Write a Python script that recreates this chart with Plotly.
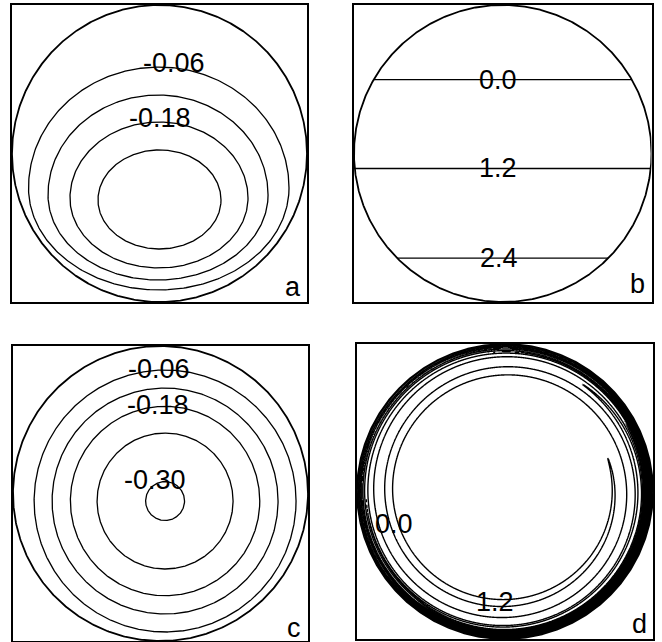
import numpy as np
import plotly.graph_objects as go

# ---------------------------------------------------------------
# Panel a: stream-function contours of an off-centre vortex.
# Each closed contour is an egg shape given by its extremes
# (unit-disc coordinates) and the height of its widest point.
# ---------------------------------------------------------------
a_levels = [-0.06, -0.12, -0.18, -0.24]
a_left = [-0.888, -0.756, -0.607, -0.417]
a_right = [0.878, 0.736, 0.600, 0.417]
a_top = [0.582, 0.394, 0.212, 0.024]
a_bottom = [-0.919, -0.852, -0.771, -0.643]
a_waist = [-0.232, -0.279, -0.300, -0.313]
a_labelled = [-0.06, -0.18]
a_label_dx = [0.095, 0.003]

# ---------------------------------------------------------------
# Panel b: initial tracer field, straight level lines
# ---------------------------------------------------------------
b_levels = [0.0, 1.2, 2.4]
b_line_y = [0.497, -0.101, -0.705]
b_label_dx = [-0.035, -0.029, -0.025]

# ---------------------------------------------------------------
# Panel c: centred vortex, near-circular contours
# ---------------------------------------------------------------
c_levels = [-0.06, -0.12, -0.18, -0.24, -0.30]
c_radius = [0.888, 0.766, 0.642, 0.461, 0.132]
c_centre_x = [0.031, 0.031, 0.031, 0.031, 0.031]
c_centre_y = [-0.051, -0.051, -0.051, -0.051, -0.051]
c_labelled = [-0.06, -0.18, -0.30]
c_label_dx = [-0.038, -0.051, -0.071]

# ---------------------------------------------------------------
# Panel d: tracer of panel b wound up by the vortex.
# Field = mean - 2*amp*sin(theta - twist(r)); the core is
# homogenised (amp -> 0) and the shear rises steeply near the wall.
# The wall part of the amplitude is measured from a slightly
# displaced centre, which breaks the filaments into tongues.
# ---------------------------------------------------------------
d_levels = [0.0, 1.2, 2.4]
d_mean = 1.0
d_core_edge = 0.715     # stirring amplitude vanishes inside this radius
d_ramp_height = 0.45    # amplitude plateau across the annulus
d_ramp_width = 0.04
d_wall_gain = 0.55      # extra amplitude recovered towards the wall
d_wall_decay = 0.05
d_wall_centre = (-0.06, 0.06)
d_twist_wall = -1.778   # rad
d_shear_core = 48.0     # shear across the annulus (rad per unit r)
d_shear_wall = 250.0    # additional shear inside the wall layer
d_wall_layer_r = 0.94
d_wall_layer_w = 0.012
d_label_text = ["0.0", "1.2"]
d_label_x = [-0.753, -0.068]
d_label_y = [-0.220, -0.749]

panel_letters = ["a", "b", "c", "d"]
letter_x = [0.905, 0.906, 0.908, 0.909]
letter_y = [-0.900, -0.880, -0.915, -0.898]

# subplot frames in pixels (left, right, top, bottom) on a 662x642 canvas
W, H = 662, 642
frames_px = [(12, 307, 5, 302), (354, 651.5, 5, 302),
             (13, 308, 346, 641), (357, 653, 344, 639)]

FONT = dict(family="Liberation Sans, Arial, Helvetica, sans-serif", size=27, color="black")
CONTOUR_W = 1.3
CIRCLE_W = 1.8

fig = go.Figure()


def axis_names(i):
    return ("x" if i == 0 else f"x{i+1}", "y" if i == 0 else f"y{i+1}")


def egg(left, right, top, bottom, waist, n=361):
    t = np.linspace(0, 2 * np.pi, n)
    s = np.sin(t)
    x = 0.5 * (left + right) + 0.5 * (right - left) * np.cos(t)
    y = np.where(s >= 0, waist + (top - waist) * s, waist + (waist - bottom) * s)
    return x, y


def line_trace(x, y, i, width=CONTOUR_W, name=None):
    xa, ya = axis_names(i)
    return go.Scatter(x=x, y=y, mode="lines", xaxis=xa, yaxis=ya, name=name,
                      line=dict(color="black", width=width), hoverinfo="skip",
                      showlegend=False)


def label(text, x, y, i):
    xa, ya = axis_names(i)
    fig.add_annotation(text=text, x=x, y=y, xref=xa, yref=ya, showarrow=False,
                       xanchor="center", yanchor="middle", font=FONT)


# boundary circle of every panel
tt = np.linspace(0, 2 * np.pi, 721)
for i in range(4):
    fig.add_trace(line_trace(np.cos(tt), np.sin(tt), i, width=CIRCLE_W))

# panel a
for lev, l, r, t, b, w in zip(a_levels, a_left, a_right, a_top, a_bottom, a_waist):
    x, y = egg(l, r, t, b, w)
    fig.add_trace(line_trace(x, y, 0, name=f"{lev:.2f}"))
for lev, dx in zip(a_labelled, a_label_dx):
    k = a_levels.index(lev)
    label(f"{lev:.2f}", dx, a_top[k] + 0.03, 0)

# panel b
for lev, yv, dx in zip(b_levels, b_line_y, b_label_dx):
    half = np.sqrt(1 - yv ** 2)
    fig.add_trace(line_trace([-half, half], [yv, yv], 1, name=f"{lev:.1f}"))
    label(f"{lev:.1f}", dx, yv, 1)

# panel c
for lev, rad, x0, y0 in zip(c_levels, c_radius, c_centre_x, c_centre_y):
    fig.add_trace(line_trace(x0 + rad * np.cos(tt), y0 + rad * np.sin(tt), 2,
                             name=f"{lev:.2f}"))
for lev, dx in zip(c_labelled, c_label_dx):
    k = c_levels.index(lev)
    label(f"{lev:.2f}", c_centre_x[k] + dx, c_centre_y[k] + c_radius[k] + 0.01, 2)

# panel d: wound-up tracer field on a fine grid
n = 541
g = np.linspace(-1, 1, n)
X, Y = np.meshgrid(g, g)
R = np.hypot(X, Y)
TH = np.arctan2(Y, X)
Rw = np.hypot(X - d_wall_centre[0], Y - d_wall_centre[1])
amp = (d_ramp_height * (1 - np.exp(-np.clip(R - d_core_edge, 0, None) / d_ramp_width))
       + d_wall_gain * np.exp(-np.clip(1 - Rw, 0, None) / d_wall_decay))
amp = np.where(R > d_core_edge, amp, 0.0)
# integral of the wall-layer shear (logistic profile) from r out to the wall
wall_int = d_shear_wall * d_wall_layer_w * (
    np.log1p(np.exp((1 - d_wall_layer_r) / d_wall_layer_w))
    - np.log1p(np.exp((np.minimum(R, 1.0) - d_wall_layer_r) / d_wall_layer_w)))
twist = d_twist_wall + d_shear_core * (1 - R) + wall_int
Z = d_mean - 2 * amp * np.sin(TH - twist)
Z[R > 1.0] = np.nan
step = d_levels[1] - d_levels[0]
fig.add_trace(go.Contour(
    x=g, y=g, z=Z.astype(np.float32), xaxis="x4", yaxis="y4",
    autocontour=False,
    contours=dict(coloring="none", start=d_levels[0], end=d_levels[-1], size=step),
    line=dict(color="black", width=1.4, smoothing=0.7),
    showscale=False, hoverinfo="skip"))
for txt, x, y in zip(d_label_text, d_label_x, d_label_y):
    label(txt, x, y, 3)

# panel letters
for i, (ch, x, y) in enumerate(zip(panel_letters, letter_x, letter_y)):
    label(ch, x, y, i)

# axes: each panel is a square frame spanning [-1, 1]
layout_axes = {}
for i, (l, r, t, b) in enumerate(frames_px):
    ax = dict(range=[-1, 1], showgrid=False, zeroline=False, showticklabels=False,
              ticks="", showline=True, mirror=True, linecolor="black", linewidth=2)
    kx = "xaxis" if i == 0 else f"xaxis{i+1}"
    ky = "yaxis" if i == 0 else f"yaxis{i+1}"
    xa, ya = axis_names(i)
    layout_axes[kx] = dict(ax, domain=[l / W, r / W], anchor=ya)
    layout_axes[ky] = dict(ax, domain=[1 - b / H, 1 - t / H], anchor=xa)

fig.update_layout(width=W, height=H, margin=dict(l=0, r=0, t=0, b=0),
                  paper_bgcolor="white", plot_bgcolor="white",
                  showlegend=False, **layout_axes)

fig.write_html("out.html")
